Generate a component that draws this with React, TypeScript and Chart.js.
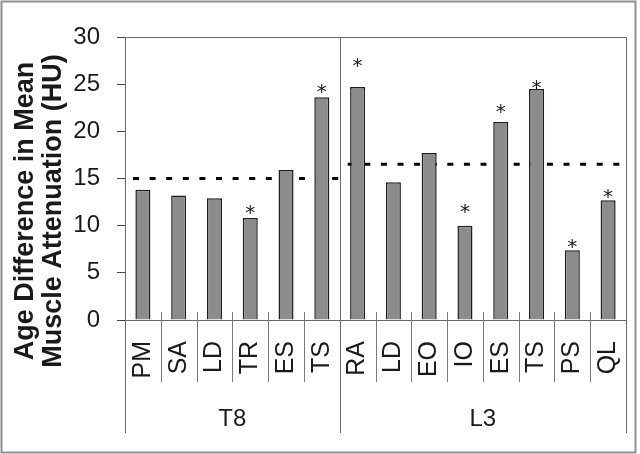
import React, { useEffect, useRef } from 'react';
import { Chart, registerables } from 'chart.js';

Chart.register(...registerables);

// ---- data ----
const categories = ['PM', 'SA', 'LD', 'TR', 'ES', 'TS', 'RA', 'LD', 'EO', 'IO', 'ES', 'TS', 'PS', 'QL'];
const groupNames = ['T8', 'L3'];
const groupSizes = [6, 8];
const groupReference = [15.0, 16.5];
const values = [13.8, 13.2, 12.9, 10.8, 15.9, 23.6, 24.7, 14.6, 17.7, 10.0, 21.0, 24.5, 7.4, 12.7];
const asteriskHeights: (number | null)[] = [null, null, null, 11.75, null, 24.5, 27.3, null, null, 11.8, 22.4, 25.0, 8.1, 13.45];
const yTitleLines = ['Age Difference in Mean', 'Muscle Attenuation (HU)'];
const yMin = 0;
const yMax = 30;
const yStep = 5;

const FONT = "'Liberation Sans', Arial, Helvetica, sans-serif";
const LINE = '#6a6a6a';

const decorPlugin = {
  id: 'decor',
  beforeDatasetsDraw(chart: any) {
    const { ctx, scales } = chart;
    const x = scales.x;
    const y = scales.y;
    const half = (x.getPixelForValue(1) - x.getPixelForValue(0)) / 2;
    let start = 0;
    ctx.save();
    ctx.strokeStyle = '#000';
    ctx.lineWidth = 3;
    ctx.setLineDash([6, 10.6]);
    ctx.lineDashOffset = -8;
    groupSizes.forEach((n, g) => {
      const x0 = x.getPixelForValue(start) - half;
      const x1 = x.getPixelForValue(start + n - 1) + half + (g === 0 ? 2 : 0);
      const py = y.getPixelForValue(groupReference[g]);
      ctx.beginPath();
      ctx.moveTo(x0, py);
      ctx.lineTo(x1, py);
      ctx.stroke();
      start += n;
    });
    ctx.restore();
  },
  afterDatasetsDraw(chart: any) {
    const { ctx, scales } = chart;
    const x = scales.x;
    const y = scales.y;
    ctx.save();
    ctx.fillStyle = '#1a1a1a';
    ctx.font = "20px 'DejaVu Sans', sans-serif";
    ctx.textAlign = 'center';
    ctx.textBaseline = 'alphabetic';
    const m = ctx.measureText('*');
    const shift = (m.actualBoundingBoxAscent - m.actualBoundingBoxDescent) / 2;
    asteriskHeights.forEach((v, i) => {
      if (v === null) return;
      ctx.fillText('*', x.getPixelForValue(i), y.getPixelForValue(v) + shift);
    });
    ctx.restore();
  },
  afterDraw(chart: any) {
    const { ctx, chartArea, scales } = chart;
    const x = scales.x;
    const { left, right, top, bottom } = chartArea;
    const half = (x.getPixelForValue(1) - x.getPixelForValue(0)) / 2;
    ctx.save();
    // plot box top
    ctx.strokeStyle = LINE;
    ctx.lineWidth = 1;
    ctx.beginPath();
    ctx.moveTo(left, top + 0.5);
    ctx.lineTo(right, top + 0.5);
    ctx.stroke();
    // category dividers
    ctx.strokeStyle = '#7a7a7a';
    for (let i = 1; i < categories.length; i++) {
      const px = Math.round(x.getPixelForValue(i) - half) + 0.5;
      ctx.beginPath();
      ctx.moveTo(px, bottom - 8);
      ctx.lineTo(px, bottom + 62);
      ctx.stroke();
    }
    // group dividers
    ctx.strokeStyle = LINE;
    let start = 0;
    const bounds: number[] = [x.getPixelForValue(0) - half];
    groupSizes.forEach((n) => {
      start += n;
      bounds.push(x.getPixelForValue(start - 1) + half);
    });
    bounds.forEach((bx) => {
      const px = Math.round(bx) + 0.5;
      ctx.beginPath();
      ctx.moveTo(px, top);
      ctx.lineTo(px, bottom + 113);
      ctx.stroke();
    });
    // group labels
    ctx.fillStyle = '#1a1a1a';
    ctx.font = `24px ${FONT}`;
    ctx.textAlign = 'center';
    ctx.textBaseline = 'middle';
    groupNames.forEach((name, g) => {
      ctx.fillText(name, (bounds[g] + bounds[g + 1]) / 2, bottom + 99);
    });
    // y-axis title
    ctx.font = `bold 27px ${FONT}`;
    ctx.textBaseline = 'alphabetic';
    yTitleLines.forEach((line, i) => {
      ctx.save();
      ctx.translate(33 + i * 27.5, 211);
      ctx.rotate(-Math.PI / 2);
      ctx.fillText(line, 0, 0);
      ctx.restore();
    });
    // outer frame
    ctx.strokeStyle = '#8f8f8f';
    ctx.lineWidth = 2;
    ctx.strokeRect(1.5, 1.5, 634, 451);
    ctx.restore();
  },
};

export default function App() {
  const ref = useRef<HTMLCanvasElement>(null);

  useEffect(() => {
    if (!ref.current) return;
    const chart = new Chart(ref.current, {
      type: 'bar',
      data: {
        labels: categories,
        datasets: [
          {
            data: values,
            backgroundColor: '#8c8c8c',
            borderColor: '#1e1e1e',
            borderWidth: 1.5,
            barPercentage: 0.42,
            categoryPercentage: 1,
          },
        ],
      },
      options: {
        responsive: false,
        animation: false,
        devicePixelRatio: 1,
        layout: { padding: { left: 0, top: 37, right: 14, bottom: 0 } },
        plugins: {
          legend: { display: false },
          tooltip: { enabled: false },
        },
        scales: {
          x: {
            offset: true,
            grid: { display: false, drawTicks: false },
            border: { display: true, color: LINE, width: 1 },
            ticks: {
              autoSkip: false,
              minRotation: 90,
              maxRotation: 90,
              padding: 21,
              color: '#1a1a1a',
              font: { family: FONT, size: 25 },
            },
            afterFit: (s: any) => {
              s.height = 134;
              s.paddingLeft = 0;
              s.paddingRight = 0;
            },
          },
          y: {
            min: yMin,
            max: yMax,
            grid: { drawOnChartArea: false, drawTicks: true, tickLength: 8, color: '#444' },
            border: { display: true, color: LINE, width: 1 },
            ticks: {
              stepSize: yStep,
              padding: 17,
              color: '#1a1a1a',
              font: { family: FONT, size: 24 },
            },
            afterFit: (s: any) => {
              s.width = 125;
            },
          },
        },
      },
      plugins: [decorPlugin],
    });
    return () => chart.destroy();
  }, []);

  return (
    <div style={{ position: 'fixed', left: 0, top: 0, width: 640, height: 454, background: '#fff' }}>
      <canvas ref={ref} width={640} height={454} style={{ display: 'block' }} />
    </div>
  );
}
